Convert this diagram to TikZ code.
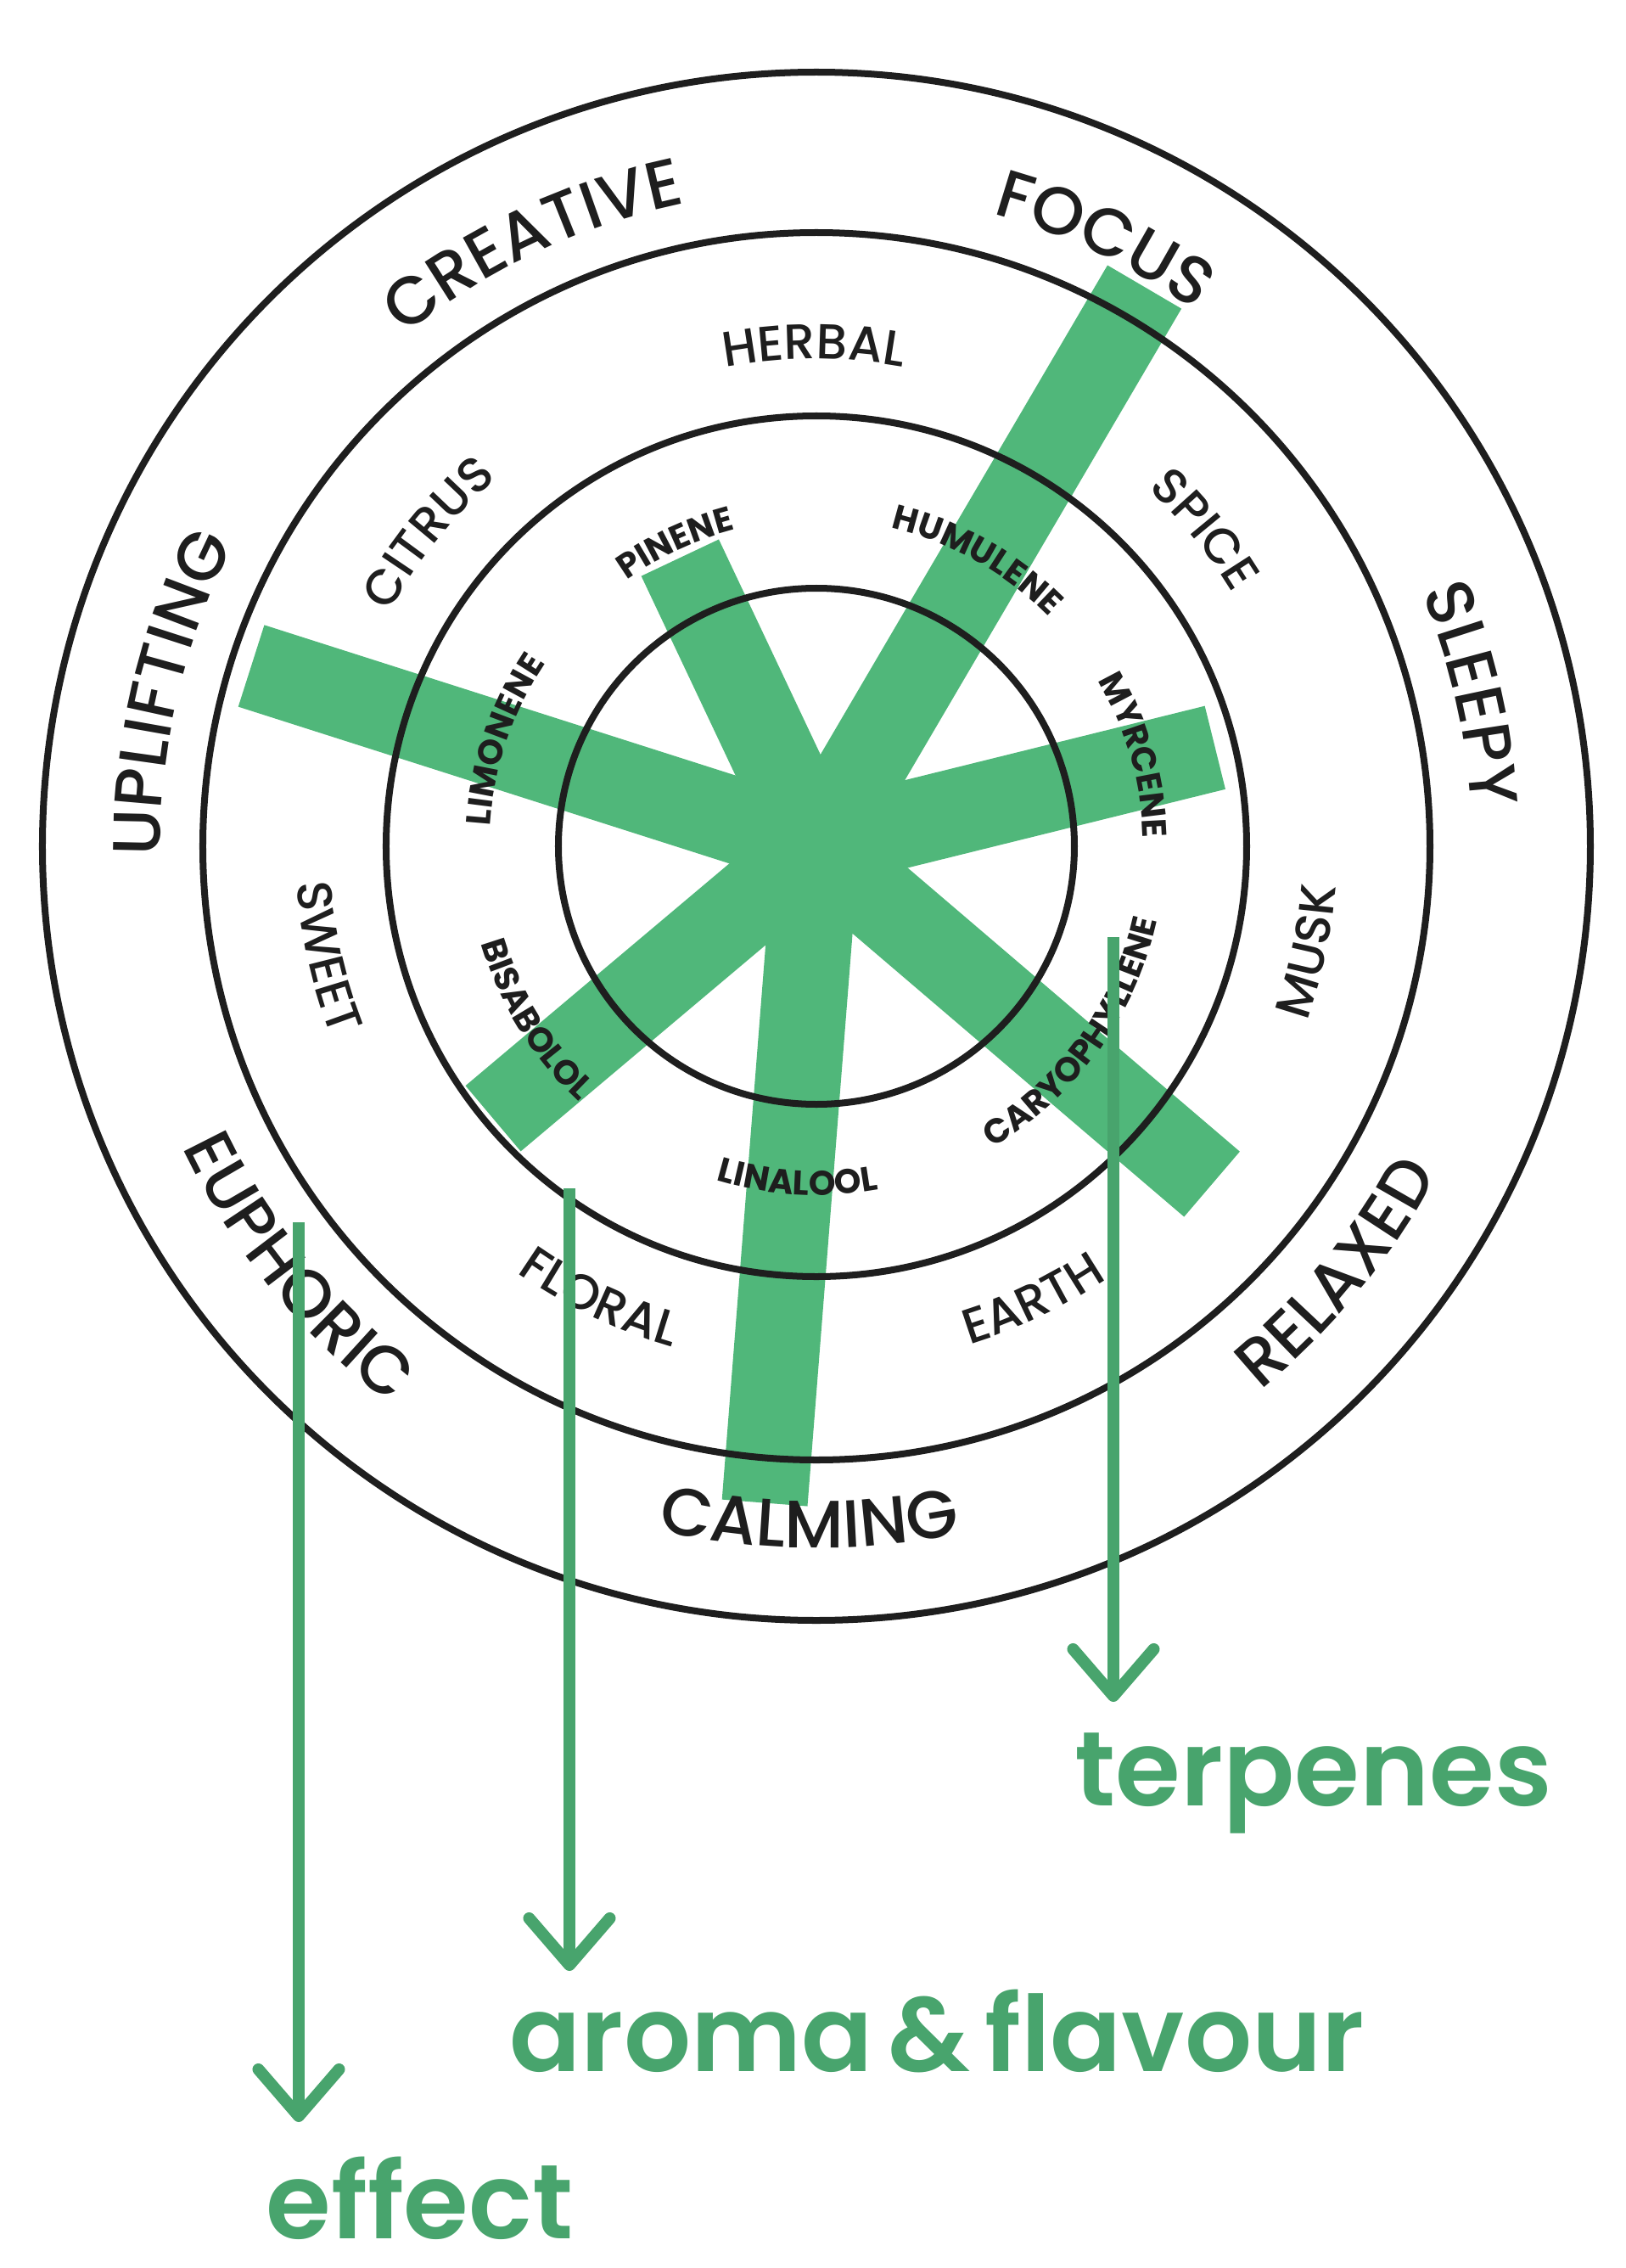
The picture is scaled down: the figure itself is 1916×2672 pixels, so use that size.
\documentclass[tikz,border=0pt]{standalone}
\usepackage{fontspec}
\setmainfont{Poppins}
\newfontfamily\ringfont{Poppins Medium}
\newfontfamily\terpfont{Poppins Bold}
\newfontfamily\tagfont{Poppins SemiBold}[WordSpace=0.6]
\usetikzlibrary{decorations.text,arrows.meta}
\definecolor{ink}{HTML}{1E1E1E}
\definecolor{leaf}{HTML}{50B77A}
\definecolor{stem}{HTML}{48A46D}

\newcommand{\outerfont}{\ringfont\fontsize{22.5}{27}\selectfont\color{ink}}
\newcommand{\midfont}{\ringfont\fontsize{16.5}{20}\selectfont\color{ink}}
\newcommand{\innerfont}{\terpfont\fontsize{11.5}{13}\selectfont\color{ink}}
% text on an arc: radius, middle angle, font, text
\newcommand{\cwtext}[4]{\path[decorate,decoration={text along path,text align=center,text={|#3|#4}}]
    (#2+40:#1) arc[start angle=#2+40, end angle=#2-40, radius=#1];}
\newcommand{\ccwtext}[4]{\path[decorate,decoration={text along path,text align=center,text={|#3|#4}}]
    (#2-40:#1) arc[start angle=#2-40, end angle=#2+40, radius=#1];}

\begin{document}
\begin{tikzpicture}[x=0.01cm,y=0.01cm,
    bar/.style={draw=leaf,line width=1.01cm},
    ring/.style={draw=ink,line width=0.08cm},
    pointer/.style={draw=stem,line width=0.14cm,-{Straight Barb[length=0.55cm,width=0.95cm,line width=0.14cm,round]}},
    tag/.style={text=stem,inner sep=0pt,text depth=0pt,font=\tagfont\fontsize{35.3}{40}\selectfont}]
    \useasboundingbox (-962,-1675) rectangle (954,997);
    \coordinate (hub) at (0,0);

    % terpene bars
    \foreach \a/\l in {59.6/764,115.3/376,162.3/699,13.9/484,-40.5/613,-94.5/776,-139.9/498}
        \draw[bar] (hub) -- (\a:\l);

    \foreach \r in {304,507,723,912}
        \draw[ring] (hub) circle[radius=\r];

    % effects
    \cwtext{773}{115.2}{\outerfont}{CREATIVE}
    \cwtext{773}{64.6}{\outerfont}{FOCUS}
    \cwtext{773}{13.1}{\outerfont}{SLEEPY}
    \ccwtext{827}{-39.3}{\outerfont}{RELAXED}
    \ccwtext{827}{-90.6}{\outerfont}{CALMING}
    \ccwtext{827}{-141}{\outerfont}{EUPHORIC}
    \cwtext{773}{166.7}{\outerfont}{UPLIFTING}
    % aromas
    \cwtext{574}{90.3}{\midfont}{HERBAL}
    \cwtext{574}{39.2}{\midfont}{SPICE}
    \ccwtext{614}{-12}{\midfont}{MUSK}
    \ccwtext{614}{-64.5}{\midfont}{EARTH}
    \ccwtext{614}{-115.6}{\midfont}{FLORAL}
    \ccwtext{614}{-167.2}{\midfont}{SWEET}
    \cwtext{574}{141.1}{\midfont}{CITRUS}
    % terpenes
    \cwtext{385}{114.9}{\innerfont}{PINENE}
    \cwtext{385}{60.7}{\innerfont}{HUMULENE}
    \cwtext{385}{16}{\innerfont}{MYRCENE}
    \ccwtext{411}{-36}{\innerfont}{CARYOPHYLLENE}
    \ccwtext{411}{-93.2}{\innerfont}{LINALOOL}
    \ccwtext{411}{-148.4}{\innerfont}{BISABOLOL}
    \cwtext{385}{161.2}{\innerfont}{LIMONENE}

    \node[tag,anchor=base west] (terpenes) at (304,-1130) {terpenes};
    \node[tag,anchor=base west] (aroma) at (-362,-1443) {aroma \& flavour};
    \node[tag,anchor=base west] (effect) at (-649,-1640) {effect};

    \coordinate (terpenes top) at (350,-107);
    \coordinate (terpenes tip) at (350,-1008);
    \coordinate (aroma top) at (-291,-403);
    \coordinate (aroma tip) at (-291,-1325);
    \coordinate (effect top) at (-610,-443);
    \coordinate (effect tip) at (-610,-1503);
    \draw[pointer] (terpenes top) -- (terpenes tip);
    \draw[pointer] (aroma top) -- (aroma tip);
    \draw[pointer] (effect top) -- (effect tip);
\end{tikzpicture}
\end{document}
